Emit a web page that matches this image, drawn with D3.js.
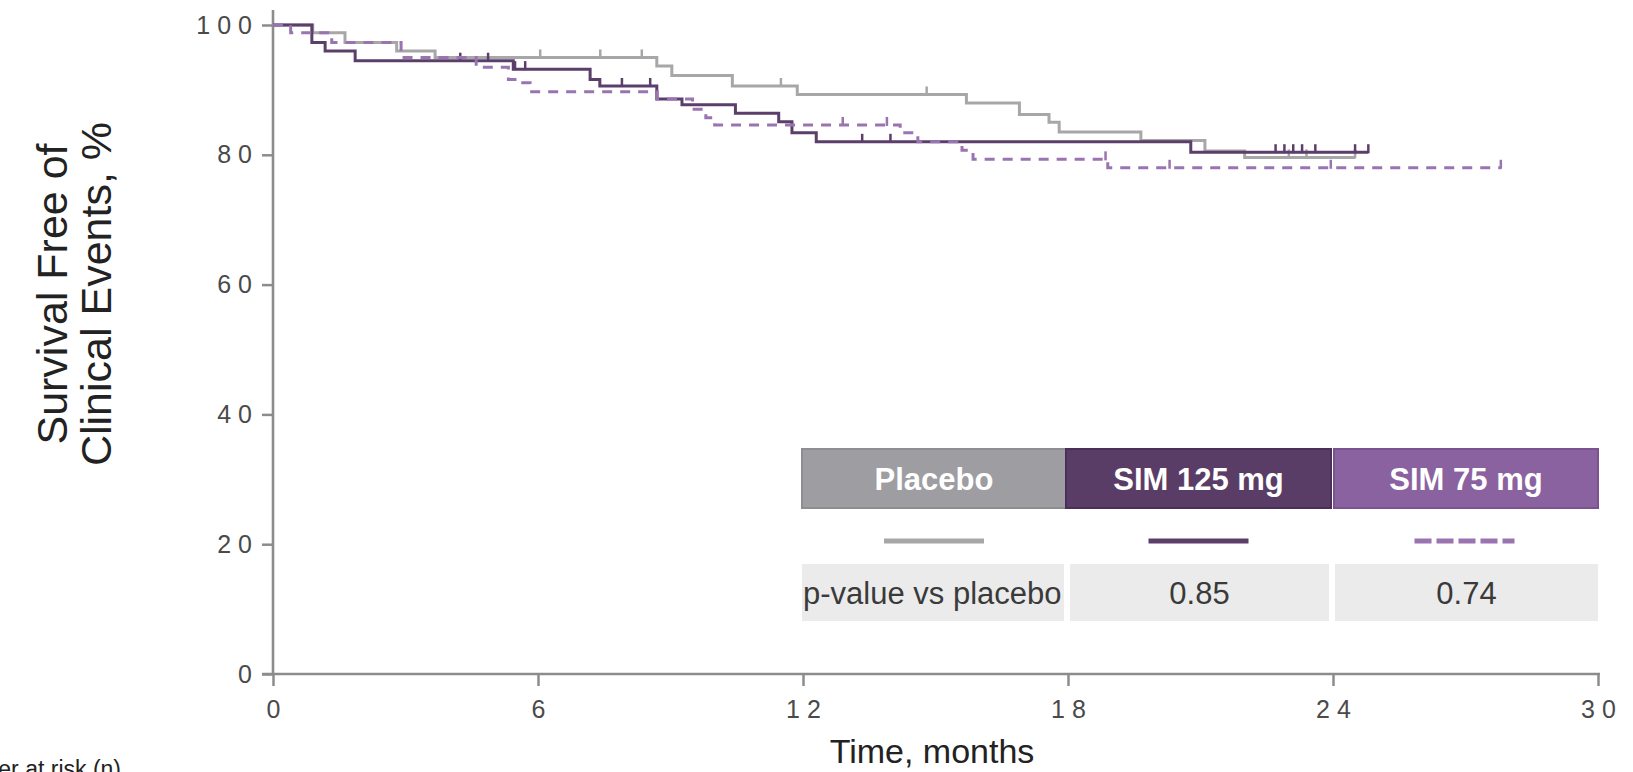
<!DOCTYPE html>
<html>
<head>
<meta charset="utf-8">
<script src="https://cdn.jsdelivr.net/npm/d3@7"></script>
<style>
  html, body { margin: 0; padding: 0; background: #ffffff; }
  svg { display: block; font-family: "Liberation Sans", Arial, sans-serif; }
</style>
</head>
<body>
<svg id="chart" width="1633" height="772"></svg>
<script>
// ---- data ----
const timeTicks = [0, 6, 12, 18, 24, 30];
const survivalTicks = [0, 20, 40, 60, 80, 100];
const groupNames = ["Placebo", "SIM 125 mg", "SIM 75 mg"];
const pValueLabel = "p-value vs placebo";
const pValues = ["0.85", "0.74"];

// Kaplan–Meier steps: [month, % free of events from that month on]
const placeboSteps = [[0, 100], [0.9, 98.8], [1.63, 97.3], [2.8, 96.0], [3.67, 95.0], [8.69, 93.7],
  [9.03, 92.2], [10.4, 90.6], [11.87, 89.3], [15.7, 88.0], [16.9, 86.2], [17.57, 85.0],
  [17.8, 83.5], [19.65, 82.2], [21.1, 80.6], [22.0, 79.6]];
const placeboLastMonth = 24.5;
const placeboCensored = [6.05, 7.41, 8.35, 11.5, 14.8, 23.0, 23.4, 24.5];

const sim125Steps = [[0, 100], [0.88, 97.3], [1.18, 96.0], [1.86, 94.5], [5.44, 93.2], [7.18, 91.6],
  [7.4, 90.6], [8.69, 88.6], [9.26, 87.7], [10.47, 86.4], [11.45, 85.1], [11.75, 83.4],
  [12.3, 82.0], [20.78, 80.4]];
const sim125LastMonth = 24.8;
const sim125Censored = [4.24, 4.87, 5.48, 5.71, 7.9, 8.54, 13.34, 13.98, 22.7, 22.9, 23.1, 23.3, 23.6, 24.5, 24.8];

const sim75Steps = [[0, 100], [0.4, 98.8], [1.33, 97.3], [2.9, 95.0], [4.6, 93.5], [5.33, 91.6],
  [5.6, 91.1], [5.82, 89.7], [8.7, 88.6], [9.5, 87.0], [9.8, 85.7], [10.0, 84.6], [14.2, 83.4],
  [14.6, 82.0], [15.6, 80.7], [15.85, 79.3], [18.9, 78.0]];
const sim75LastMonth = 27.8;
const sim75Censored = [12.9, 13.9, 18.85, 20.3, 23.95, 27.8];

// ---- styles ----
const colPlacebo = "#a7a7aa";
const colSim125 = "#5b3e6a";
const colSim75 = "#9a74b0";
const headFill = ["#9e9da2", "#5a3d66", "#8a62a0"];
const headEdge = ["#8e8d92", "#4a3056", "#7a5290"];

const svg = d3.select("#chart");

const x = d3.scaleLinear().domain([0, 30]).range([273, 1598]);
const y = d3.scaleLinear().domain([0, 100]).range([674, 25]);

// ---- axes ----
const axisColor = "#8c8c8c";
const tickText = "#4a4a4a";

const yAxis = svg.append("g").attr("transform", `translate(${x(0)},0)`)
  .call(d3.axisLeft(y).tickValues(survivalTicks).tickSize(11).tickPadding(10).tickFormat(d3.format("d")));
yAxis.select(".domain").remove();
yAxis.selectAll(".tick line").attr("stroke", axisColor).attr("stroke-width", 2.5);
yAxis.selectAll(".tick text")
  .attr("fill", tickText).attr("font-size", 25).attr("letter-spacing", 7)
  .attr("dx", 7).attr("font-family", "'Liberation Sans', Arial, sans-serif");

const xAxis = svg.append("g").attr("transform", `translate(0,${y(0)})`)
  .call(d3.axisBottom(x).tickValues(timeTicks).tickSize(12).tickPadding(14).tickFormat(d3.format("d")));
xAxis.select(".domain").remove();
xAxis.selectAll(".tick line").attr("stroke", axisColor).attr("stroke-width", 2.5);
xAxis.selectAll(".tick text")
  .attr("fill", tickText).attr("font-size", 25).attr("letter-spacing", 7)
  .attr("dx", 3.5).attr("font-family", "'Liberation Sans', Arial, sans-serif");

// axis lines
svg.append("line").attr("x1", x(0)).attr("x2", x(0)).attr("y1", 10).attr("y2", y(0))
  .attr("stroke", axisColor).attr("stroke-width", 2.6);
svg.append("line").attr("x1", x(0) - 11).attr("x2", x(30) + 2).attr("y1", y(0)).attr("y2", y(0))
  .attr("stroke", axisColor).attr("stroke-width", 2.6);

// axis titles
svg.append("text").attr("x", 932).attr("y", 763).attr("text-anchor", "middle")
  .attr("font-size", 34).attr("fill", "#222").text("Time, months");

const yTitle = svg.append("text").attr("font-size", 43).attr("fill", "#222")
  .attr("text-anchor", "middle").attr("transform", "translate(67,294) rotate(-90)");
yTitle.append("tspan").attr("x", 0).attr("y", 0).text("Survival Free of");
yTitle.append("tspan").attr("x", 0).attr("y", 44).text("Clinical Events, %");

svg.append("text").attr("x", 121).attr("y", 777).attr("text-anchor", "end")
  .attr("font-size", 23).attr("fill", "#222").text("Number at risk (n)");

// ---- curves ----
function stepValue(steps, t) {
  let v = steps[0][1];
  for (const s of steps) { if (s[0] <= t) v = s[1]; }
  return v;
}
const line = d3.line().x(d => x(d[0])).y(d => y(d[1])).curve(d3.curveStepAfter);

function drawCurve(steps, last, censored, color, dash) {
  const pts = steps.concat([[last, steps[steps.length - 1][1]]]);
  svg.append("path").datum(pts).attr("d", line).attr("fill", "none")
    .attr("stroke", color).attr("stroke-width", 3)
    .attr("stroke-dasharray", dash || null);
  svg.append("g").selectAll("line").data(censored).join("line")
    .attr("x1", d => x(d)).attr("x2", d => x(d))
    .attr("y1", d => y(stepValue(steps, d)) - 8)
    .attr("y2", d => y(stepValue(steps, d)) + 1)
    .attr("stroke", color).attr("stroke-width", 2.5);
}

drawCurve(placeboSteps, placeboLastMonth, placeboCensored, colPlacebo);
drawCurve(sim125Steps, sim125LastMonth, sim125Censored, colSim125);
drawCurve(sim75Steps, sim75LastMonth, sim75Censored, colSim75, "10,8");

// ---- legend table ----
const colEdges = [802, 1066, 1331, 1598];
const head = svg.append("g");
groupNames.forEach((name, i) => {
  const x0 = colEdges[i] + (i === 2 ? 3 : 0);
  const x1 = colEdges[i + 1];
  head.append("rect").attr("x", x0).attr("y", 449).attr("width", x1 - x0).attr("height", 59)
    .attr("fill", headFill[i]).attr("stroke", headEdge[i]).attr("stroke-width", 2);
  head.append("text").attr("x", (x0 + x1) / 2).attr("y", 490).attr("text-anchor", "middle")
    .attr("font-size", 31).attr("font-weight", "bold").attr("fill", "#ffffff").text(name);
});

// line samples
const sampleColors = [colPlacebo, colSim125, colSim75];
const sampleDash = [null, null, "17,5"];
groupNames.forEach((name, i) => {
  const cx = (colEdges[i] + colEdges[i + 1]) / 2;
  svg.append("line").attr("x1", cx - 50).attr("x2", cx + 50).attr("y1", 541).attr("y2", 541)
    .attr("stroke", sampleColors[i]).attr("stroke-width", 5)
    .attr("stroke-dasharray", sampleDash[i]);
});

// p-value row
const pCells = [[802, 1064], [1070, 1329], [1335, 1598]];
pCells.forEach((c, i) => {
  svg.append("rect").attr("x", c[0]).attr("y", 564).attr("width", c[1] - c[0]).attr("height", 57)
    .attr("fill", "#ebebeb");
});
svg.append("text").attr("x", 803).attr("y", 604).attr("font-size", 31).attr("fill", "#3a3a3a")
  .text(pValueLabel);
pValues.forEach((v, i) => {
  const c = pCells[i + 1];
  svg.append("text").attr("x", (c[0] + c[1]) / 2).attr("y", 604).attr("text-anchor", "middle")
    .attr("font-size", 31).attr("fill", "#3a3a3a").text(v);
});
</script>
</body>
</html>
